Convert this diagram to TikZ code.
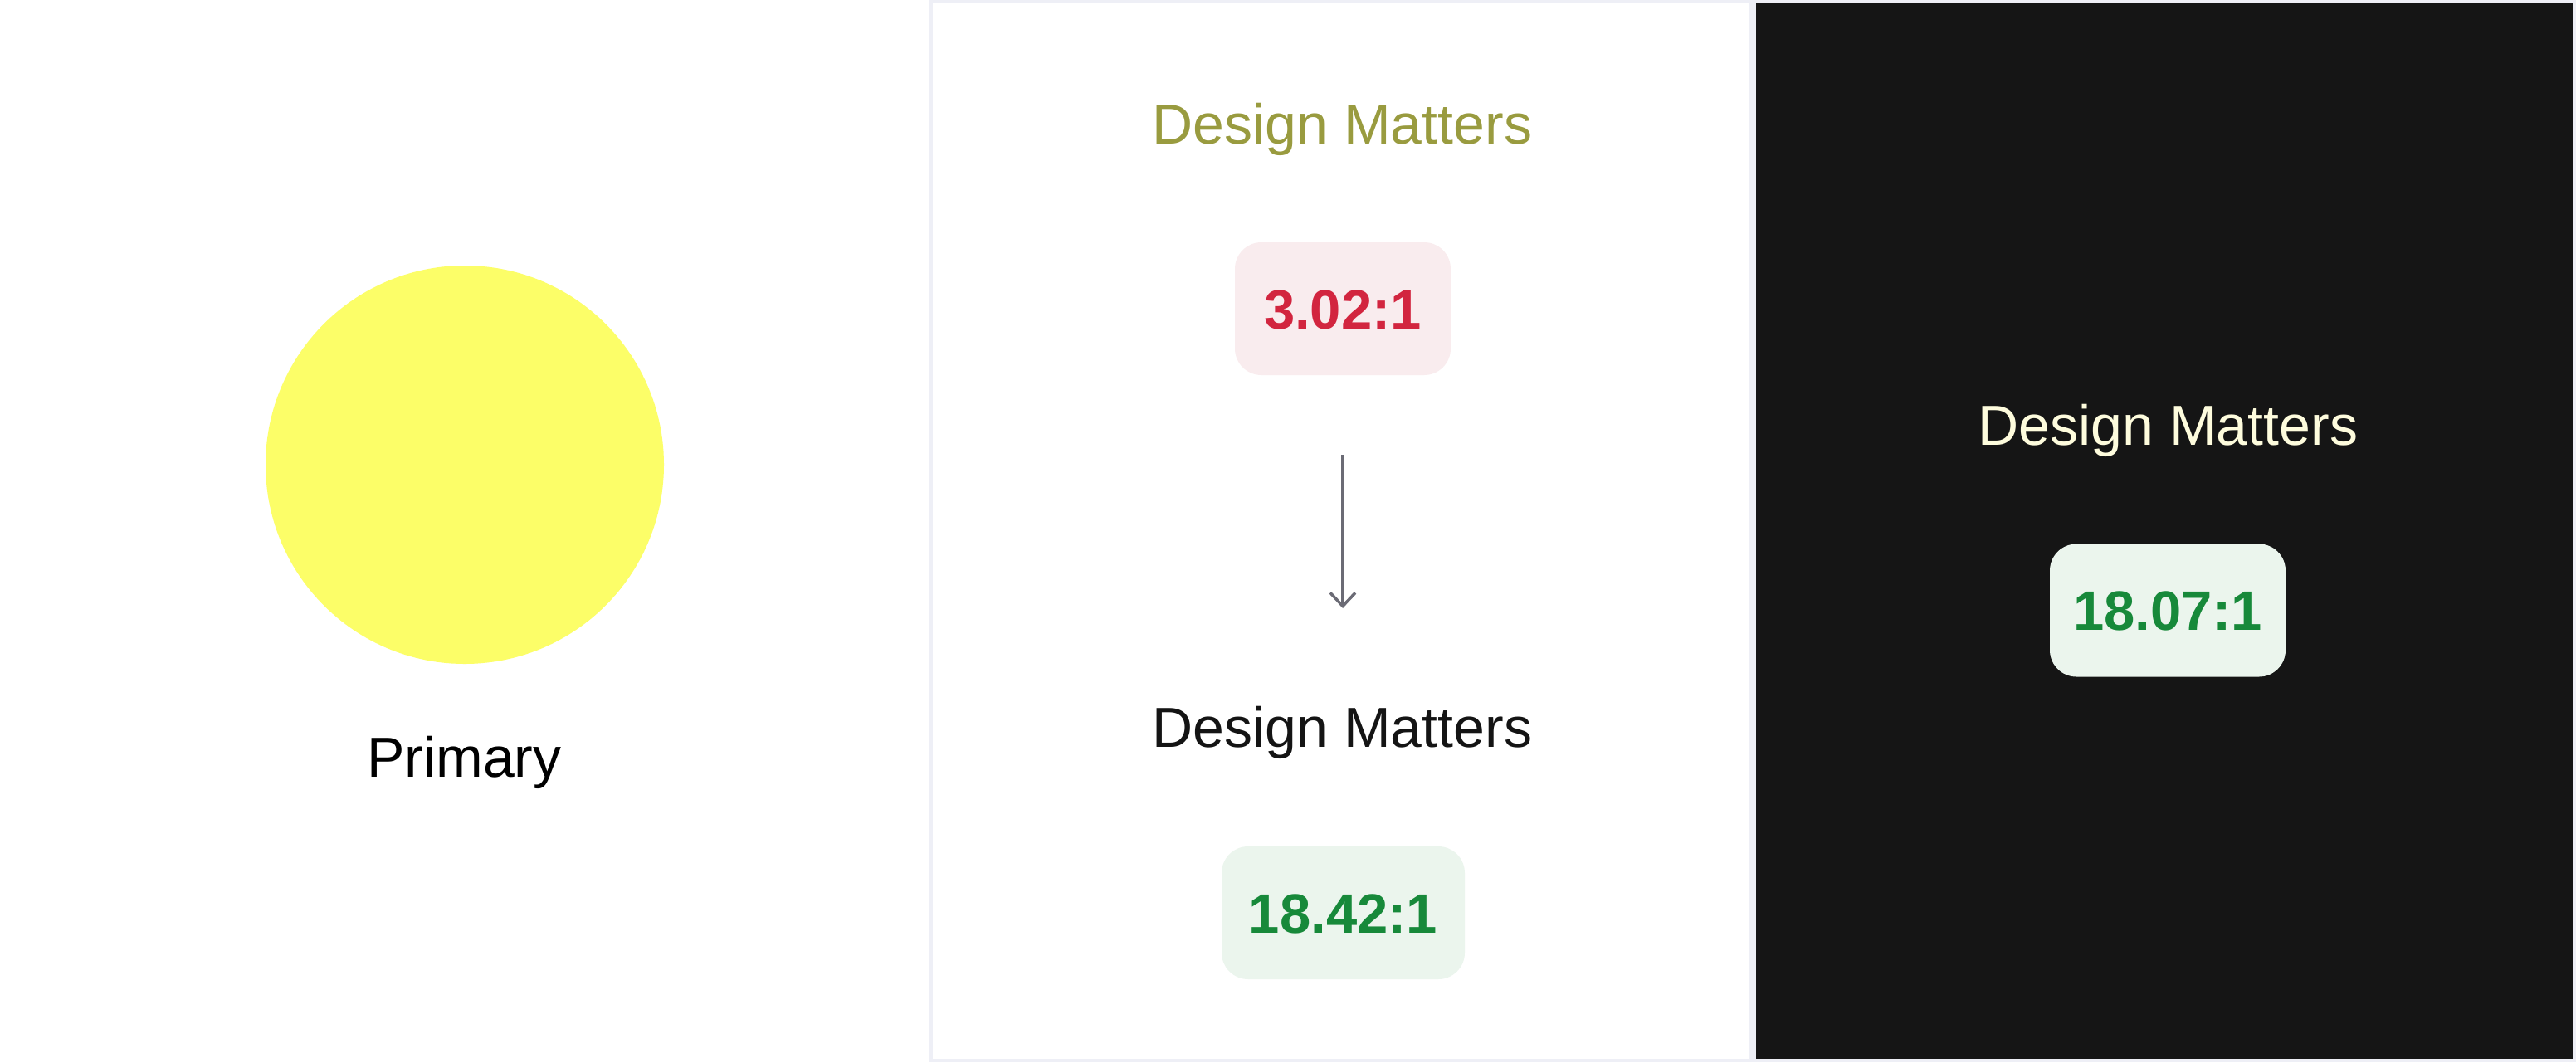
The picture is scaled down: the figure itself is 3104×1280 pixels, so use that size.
\documentclass[tikz,border=0pt]{standalone}
\usepackage{fontspec}
\setmainfont{Liberation Sans}
\usetikzlibrary{arrows.meta}
\definecolor{frameline}{HTML}{EEEFF6}
\definecolor{darkbg}{HTML}{151515}
\definecolor{sunny}{HTML}{FCFE68}
\definecolor{olive}{HTML}{999B3F}
\definecolor{cream}{HTML}{FEFCDD}
\definecolor{badred}{HTML}{D2253F}
\definecolor{badfill}{HTML}{F9ECEE}
\definecolor{goodgreen}{HTML}{17893A}
\definecolor{goodfill}{HTML}{EBF5ED}
\definecolor{arrowgray}{HTML}{6B6B75}
\tikzset{
  label/.style={inner sep=0pt, anchor=base, font=\fontsize{68}{72}\selectfont},
  badge/.style={rounded corners=32pt, inner sep=0pt, text height=48pt, text depth=0pt,
    minimum height=160pt, font=\bfseries\fontsize{67}{70}\selectfont},
  goodbadge/.style={badge, fill=goodfill, text=goodgreen},
  badbadge/.style={badge, fill=badfill, text=badred},
  flow/.style={draw=arrowgray, line width=3.5pt, -{Straight Barb[length=16pt,width=30pt,line width=3.5pt]}}
}
\begin{document}
\begin{tikzpicture}[x=1pt, y=-1pt]
\useasboundingbox (0,0) rectangle (3104,1280);
\fill[white] (0,0) rectangle (3104,1280);
% frame
\fill[frameline] (1120,0) rectangle (3104,1280);
\fill[white] (1124,4) rectangle (2108,1276);
\fill[darkbg] (2116,4) rectangle (3100,1276);
% left: swatch
\node[circle, fill=sunny, minimum size=480pt, inner sep=0pt] (swatch) at (560,560) {};
\node[label, text=black] (primary) at (559.5,936) {Primary};
% middle panel
\node[label, text=olive] (dm1) at (1617.5,173) {Design Matters};
\node[badbadge, minimum width=260pt] (r1) at (1618,372) {3.02:1};
\coordinate (a1) at (1618,548);
\coordinate (a2) at (1618,733);
\draw[flow] (a1) -- (a2);
\node[label, text=black!92] (dm2) at (1617.5,900) {Design Matters};
\node[goodbadge, minimum width=293pt] (r2) at (1618.5,1100) {18.42:1};
% dark panel
\node[label, text=cream] (dm3) at (2612.5,536) {Design Matters};
\node[goodbadge, minimum width=284pt] (r3) at (2612,735.5) {18.07:1};
\end{tikzpicture}
\end{document}
